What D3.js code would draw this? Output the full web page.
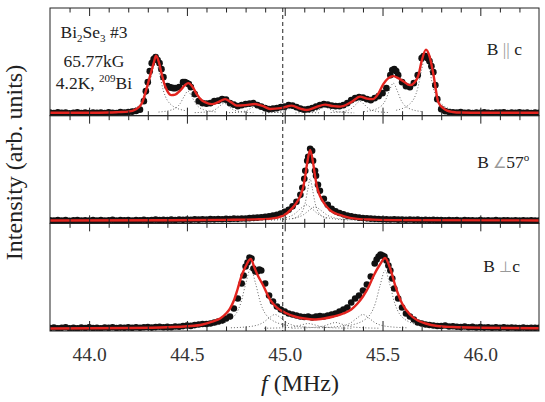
<!DOCTYPE html>
<html>
<head>
<meta charset="utf-8">
<script src="https://cdnjs.cloudflare.com/ajax/libs/d3/7.8.5/d3.min.js"></script>
<style>
body { margin: 0; background: #fff; }
</style>
</head>
<body>
<svg id="chart"></svg>
<script>
// frequency grid of the measured points (MHz)
const freq = [
43.80,43.82,43.84,43.86,43.88,43.90,43.92,43.94,43.96,43.98,
44.00,44.02,44.04,44.06,44.08,44.10,44.12,44.14,44.16,44.18,
44.20,44.22,44.24,44.26,44.28,44.30,44.32,44.34,44.36,44.38,
44.40,44.42,44.44,44.46,44.48,44.50,44.52,44.54,44.56,44.58,
44.60,44.62,44.64,44.66,44.68,44.70,44.72,44.74,44.76,44.78,
44.80,44.82,44.84,44.86,44.88,44.90,44.92,44.94,44.96,44.98,
45.00,45.02,45.04,45.06,45.08,45.10,45.12,45.14,45.16,45.18,
45.20,45.22,45.24,45.26,45.28,45.30,45.32,45.34,45.36,45.38,
45.40,45.42,45.44,45.46,45.48,45.50,45.52,45.54,45.56,45.58,
45.60,45.62,45.64,45.66,45.68,45.70,45.72,45.74,45.76,45.78,
45.80,45.82,45.84,45.86,45.88,45.90,45.92,45.94,45.96,45.98,
46.00,46.02,46.04,46.06,46.08,46.10,46.12,46.14,46.16,46.18,
46.20,46.22,46.24,46.26,46.28,46.30];

// measured intensity, B || c
const intParallel = [
0.005,0.000,0.008,0.003,0.006,-0.002,0.004,0.009,0.002,0.005,
0.000,0.007,0.003,0.006,0.001,0.008,0.004,0.002,0.010,0.006,
0.012,0.015,0.022,0.035,0.12,0.31,0.50,0.56,0.50,0.36,
0.27,0.255,0.25,0.26,0.31,0.30,0.26,0.19,0.12,0.10,
0.095,0.10,0.12,0.125,0.14,0.135,0.10,0.085,0.07,0.08,
0.09,0.095,0.10,0.08,0.065,0.05,0.04,0.045,0.05,0.06,
0.065,0.08,0.075,0.06,0.045,0.035,0.04,0.05,0.065,0.08,
0.09,0.085,0.075,0.07,0.07,0.08,0.10,0.13,0.15,0.16,
0.155,0.14,0.13,0.15,0.17,0.20,0.25,0.38,0.44,0.38,
0.31,0.27,0.26,0.30,0.38,0.55,0.57,0.52,0.41,0.14,
0.04,0.02,0.012,0.008,0.006,0.01,0.004,0.007,0.002,0.006,
0.003,0.008,0.004,0.001,0.007,0.005,0.009,0.002,0.006,0.004,
0.008,0.003,0.006,0.001,0.005,0.004];
const extraParallel = [[44.29,0.22],[44.31,0.42],[44.33,0.54],[44.35,0.53],[44.37,0.44],[44.41,0.26],[44.43,0.25],
[44.49,0.31],[44.51,0.29],[45.55,0.43],[45.57,0.42],[45.71,0.57],[45.73,0.55],[45.75,0.47],[45.77,0.28]];

// measured intensity, B at 57 deg
const intAngle = [
0.006,0.002,0.008,0.004,0.007,0.001,0.005,0.009,0.003,0.006,
0.002,0.007,0.004,0.008,0.003,0.006,0.010,0.004,0.007,0.005,
0.009,0.004,0.008,0.006,0.011,0.005,0.008,0.012,0.007,0.010,
0.008,0.012,0.009,0.013,0.010,0.014,0.011,0.015,0.012,0.016,
0.014,0.017,0.015,0.018,0.016,0.02,0.018,0.022,0.02,0.024,
0.024,0.027,0.03,0.032,0.036,0.04,0.045,0.052,0.06,0.072,
0.09,0.11,0.145,0.19,0.26,0.42,0.64,0.70,0.45,0.30,
0.22,0.16,0.12,0.095,0.078,0.065,0.052,0.045,0.038,0.032,
0.028,0.025,0.022,0.02,0.018,0.016,0.015,0.013,0.016,0.012,
0.014,0.011,0.013,0.01,0.012,0.009,0.011,0.008,0.01,0.007,
0.009,0.006,0.008,0.005,0.007,0.004,0.008,0.005,0.006,0.004,
0.007,0.003,0.006,0.004,0.007,0.002,0.005,0.006,0.003,0.005,
0.004,0.006,0.002,0.005,0.003,0.004];
const extraAngle = [[45.09,0.33],[45.105,0.50],[45.115,0.60],[45.13,0.72],[45.145,0.60],[45.155,0.50],[45.17,0.36]];

// measured intensity, B perpendicular to c
const intPerp = [
0.004,0.010,0.002,0.007,0.012,0.003,0.008,0.001,0.009,0.005,
0.011,0.004,0.008,0.002,0.010,0.006,0.012,0.005,0.009,0.007,
0.011,0.006,0.013,0.008,0.012,0.015,0.009,0.014,0.017,0.012,
0.016,0.013,0.02,0.018,0.024,0.03,0.026,0.034,0.04,0.045,
0.045,0.05,0.06,0.07,0.08,0.10,0.12,0.20,0.30,0.45,
0.62,0.71,0.60,0.57,0.58,0.45,0.33,0.27,0.22,0.19,
0.17,0.15,0.14,0.13,0.12,0.115,0.12,0.11,0.12,0.125,
0.12,0.13,0.14,0.15,0.17,0.19,0.21,0.26,0.30,0.33,
0.38,0.44,0.52,0.65,0.72,0.73,0.68,0.58,0.40,0.30,
0.21,0.15,0.12,0.09,0.06,0.05,0.04,0.035,0.03,0.025,
0.025,0.03,0.02,0.022,0.018,0.015,0.02,0.012,0.016,0.01,
0.014,0.009,0.013,0.008,0.011,0.007,0.012,0.006,0.01,0.008,
0.005,0.009,0.004,0.008,0.006,0.007];
const extraPerp = [[44.79,0.53],[44.81,0.66],[44.83,0.70],[44.85,0.57],[44.87,0.59],
[45.47,0.69],[45.49,0.74],[45.51,0.72],[45.53,0.63],[45.55,0.50]];

// fitted curves (red)
const fitParallel = [[43.80,0.004],[44.00,0.004],[44.10,0.006],[44.15,0.01],[44.20,0.015],[44.24,0.04],[44.27,0.10],
[44.29,0.22],[44.31,0.36],[44.33,0.50],[44.342,0.575],[44.355,0.52],[44.37,0.40],[44.385,0.29],[44.40,0.22],
[44.42,0.18],[44.44,0.185],[44.465,0.225],[44.49,0.28],[44.507,0.30],[44.53,0.26],[44.55,0.19],[44.575,0.13],
[44.592,0.11],[44.627,0.09],[44.66,0.11],[44.695,0.14],[44.725,0.11],[44.755,0.075],[44.80,0.08],[44.848,0.092],
[44.89,0.07],[44.925,0.042],[44.98,0.05],[45.036,0.075],[45.08,0.045],[45.112,0.032],[45.16,0.06],[45.206,0.085],
[45.25,0.07],[45.283,0.065],[45.34,0.11],[45.385,0.165],[45.42,0.145],[45.45,0.14],[45.48,0.20],[45.504,0.29],
[45.53,0.35],[45.555,0.37],[45.58,0.35],[45.606,0.32],[45.64,0.28],[45.665,0.31],[45.683,0.375],[45.70,0.52],
[45.722,0.635],[45.74,0.57],[45.76,0.39],[45.785,0.11],[45.81,0.05],[45.83,0.025],[45.86,0.012],[45.90,0.006],
[46.00,0.004],[46.30,0.004]];
const fitAngle = [[43.80,0.004],[44.40,0.006],[44.70,0.01],[44.85,0.015],[44.93,0.022],[44.99,0.05],[45.04,0.13],
[45.06,0.18],[45.08,0.25],[45.095,0.34],[45.105,0.45],[45.115,0.58],[45.13,0.71],[45.145,0.58],[45.155,0.45],
[45.165,0.34],[45.18,0.25],[45.20,0.18],[45.23,0.11],[45.30,0.048],[45.37,0.02],[45.45,0.012],[45.60,0.007],[46.30,0.004]];
const fitPerp = [[43.80,0.0],[44.20,0.005],[44.40,0.013],[44.50,0.022],[44.58,0.04],[44.63,0.07],[44.67,0.10],
[44.70,0.15],[44.72,0.20],[44.74,0.28],[44.76,0.40],[44.78,0.53],[44.80,0.62],[44.826,0.695],[44.845,0.61],
[44.86,0.54],[44.89,0.43],[44.925,0.29],[44.96,0.21],[45.00,0.16],[45.06,0.115],[45.10,0.10],[45.15,0.09],
[45.20,0.10],[45.25,0.12],[45.30,0.15],[45.34,0.19],[45.37,0.245],[45.40,0.32],[45.43,0.42],[45.455,0.53],
[45.487,0.64],[45.513,0.705],[45.54,0.595],[45.565,0.43],[45.60,0.25],[45.64,0.14],[45.68,0.08],[45.72,0.05],
[45.78,0.025],[45.86,0.015],[46.00,0.008],[46.30,0.003]];

// single line components (dotted)
const compsParallel = [
[[44.19,0.026],[44.26,0.083],[44.30,0.224],[44.32,0.39],[44.34,0.52],[44.36,0.39],[44.38,0.224],[44.42,0.083],[44.49,0.026]],
[[44.355,0.011],[44.425,0.035],[44.465,0.095],[44.485,0.165],[44.505,0.22],[44.525,0.165],[44.545,0.095],[44.585,0.035],[44.655,0.011]],
[[44.54,0.005],[44.61,0.016],[44.65,0.043],[44.67,0.075],[44.69,0.10],[44.71,0.075],[44.73,0.043],[44.77,0.016],[44.84,0.005]],
[[44.70,0.004],[44.77,0.011],[44.81,0.03],[44.83,0.053],[44.85,0.07],[44.87,0.053],[44.89,0.03],[44.93,0.011],[45.00,0.004]],
[[44.885,0.003],[44.955,0.008],[44.995,0.022],[45.015,0.038],[45.035,0.05],[45.055,0.038],[45.075,0.022],[45.115,0.008],[45.185,0.003]],
[[45.055,0.003],[45.125,0.01],[45.165,0.026],[45.185,0.045],[45.205,0.06],[45.225,0.045],[45.245,0.026],[45.285,0.01],[45.355,0.003]],
[[45.235,0.006],[45.305,0.019],[45.345,0.052],[45.365,0.09],[45.385,0.12],[45.405,0.09],[45.425,0.052],[45.465,0.019],[45.535,0.006]],
[[45.405,0.015],[45.475,0.048],[45.515,0.129],[45.535,0.225],[45.555,0.30],[45.575,0.225],[45.595,0.129],[45.635,0.048],[45.705,0.015]],
[[45.57,0.029],[45.64,0.093],[45.68,0.25],[45.70,0.435],[45.72,0.58],[45.74,0.435],[45.76,0.25],[45.80,0.093],[45.87,0.029]]];
const compsAngle = [
[[45.04,0.021],[45.08,0.067],[45.105,0.18],[45.118,0.315],[45.13,0.42],[45.142,0.315],[45.155,0.18],[45.18,0.067],[45.22,0.021]],
[[44.885,0.008],[44.99,0.026],[45.05,0.069],[45.08,0.12],[45.11,0.16],[45.14,0.12],[45.17,0.069],[45.23,0.026],[45.335,0.008]],
[[44.93,0.007],[45.035,0.022],[45.095,0.06],[45.125,0.105],[45.155,0.14],[45.185,0.105],[45.215,0.06],[45.275,0.022],[45.38,0.007]]];
const compsPerp = [
[[44.636,0.03],[44.726,0.096],[44.776,0.258],[44.801,0.45],[44.826,0.60],[44.851,0.45],[44.876,0.258],[44.926,0.096],[45.016,0.03]],
[[44.725,0.007],[44.83,0.022],[44.89,0.06],[44.92,0.105],[44.95,0.14],[44.98,0.105],[45.01,0.06],[45.07,0.022],[45.175,0.007]],
[[44.895,0.003],[45.00,0.008],[45.06,0.022],[45.09,0.038],[45.12,0.05],[45.15,0.038],[45.18,0.022],[45.24,0.008],[45.345,0.003]],
[[45.035,0.003],[45.14,0.01],[45.20,0.026],[45.23,0.045],[45.26,0.06],[45.29,0.045],[45.32,0.026],[45.38,0.01],[45.485,0.003]],
[[45.175,0.007],[45.28,0.022],[45.34,0.06],[45.37,0.105],[45.40,0.14],[45.43,0.105],[45.46,0.06],[45.52,0.022],[45.625,0.007]],
[[45.323,0.029],[45.413,0.093],[45.463,0.25],[45.488,0.435],[45.513,0.58],[45.538,0.435],[45.563,0.25],[45.613,0.093],[45.703,0.029]]];

const majorTicks = [44.0, 44.5, 45.0, 45.5, 46.0];
const minorTicks = [43.9,44.1,44.2,44.3,44.4,44.6,44.7,44.8,44.9,45.1,45.2,45.3,45.4,45.6,45.7,45.8,45.9,46.1,46.2];
const centerLine = 44.99;

//Defining global layout
let width = 545;
let height = 402;
let plotLeft = 50;
let plotRight = 539;
let plotTop = 8;
let panelH = 107.67;
const serif = '"Liberation Serif", "Times New Roman", serif';

const svg = d3.select('#chart').attr('width', width).attr('height', height)
    .style('display', 'block').attr('font-family', serif);
const xScale = d3.scaleLinear().domain([43.8, 46.3]).range([plotLeft, plotRight]);

const panels = [
    {values: intParallel, extra: extraParallel, fit: fitParallel, comps: compsParallel},
    {values: intAngle, extra: extraAngle, fit: fitAngle, comps: compsAngle},
    {values: intPerp, extra: extraPerp, fit: fitPerp, comps: compsPerp}
];

const drawPanel = (p, i) => {
    const y0 = plotTop + i * panelH;
    const bottom = y0 + panelH;
    const yScale = d3.scaleLinear().domain([0, 1]).range([bottom - 2.5, bottom - 102.5]);

    svg.append('clipPath').attr('id', 'clip' + i)
        .append('rect').attr('x', plotLeft).attr('y', y0).attr('width', plotRight - plotLeft).attr('height', panelH);
    const plot = svg.append('g').attr('clip-path', 'url(#clip' + i + ')');

    const line = d3.line().x(d => xScale(d[0])).y(d => yScale(d[1])).curve(d3.curveMonotoneX);

    p.comps.forEach(c => {
        plot.append('path').attr('d', line(c)).attr('fill', 'none')
            .attr('stroke', '#666').attr('stroke-width', 1).attr('stroke-dasharray', '1,2');
    });

    const pts = p.values.map((v, k) => [freq[k], v]).concat(p.extra);
    plot.selectAll('circle').data(pts).enter().append('circle')
        .attr('cx', d => xScale(d[0]))
        .attr('cy', d => yScale(d[1]))
        .attr('r', 3.3)
        .attr('fill', '#111');

    plot.append('path').attr('d', line(p.fit)).attr('fill', 'none')
        .attr('stroke', '#e3241f').attr('stroke-width', 2.4).attr('stroke-linejoin', 'round');

    // inward ticks on top and bottom edges
    const last = i === panels.length - 1;
    const addAxis = (axis, y) => {
        const g = svg.append('g').attr('transform', 'translate(0,' + y + ')').call(axis);
        g.attr('font-family', serif);
        g.select('.domain').remove();
        g.selectAll('line').attr('stroke', '#222');
        return g;
    };
    addAxis(d3.axisTop(xScale).tickValues(majorTicks).tickSizeInner(-8).tickSizeOuter(0).tickFormat(''), y0);
    addAxis(d3.axisTop(xScale).tickValues(minorTicks).tickSizeInner(-4.5).tickSizeOuter(0).tickFormat(''), y0);
    addAxis(d3.axisBottom(xScale).tickValues(minorTicks).tickSizeInner(-4.5).tickSizeOuter(0).tickFormat(''), bottom);
    const bAxis = d3.axisBottom(xScale).tickValues(majorTicks).tickSizeInner(last ? -10 : -8).tickSizeOuter(0);
    if (last) {
        bAxis.tickFormat(d3.format('.1f')).tickPadding(0);
    } else {
        bAxis.tickFormat('');
    }
    const gb = addAxis(bAxis, bottom);
    if (last) {
        gb.attr('font-size', 19.5);
        gb.selectAll('text').attr('y', 29.8).attr('dy', null).attr('fill', '#333');
    }

    svg.append('rect').attr('x', plotLeft).attr('y', y0)
        .attr('width', plotRight - plotLeft).attr('height', panelH)
        .attr('fill', 'none').attr('stroke', '#222').attr('stroke-width', 1);
};

panels.forEach(drawPanel);

// dashed reference line
svg.append('line')
    .attr('x1', xScale(centerLine)).attr('x2', xScale(centerLine))
    .attr('y1', plotTop).attr('y2', plotTop + 3 * panelH)
    .attr('stroke', '#222').attr('stroke-width', 1).attr('stroke-dasharray', '4,3');

// annotations
const note = svg.append('g').attr('fill', '#222').attr('font-size', 17.5).attr('text-anchor', 'middle');
const t1 = note.append('text').attr('x', 94).attr('y', 38.3);
t1.append('tspan').text('Bi');
t1.append('tspan').attr('font-size', 11).attr('dy', 4).text('2');
t1.append('tspan').attr('dy', -4).text('Se');
t1.append('tspan').attr('font-size', 11).attr('dy', 4).text('3');
t1.append('tspan').attr('dy', -4).text(' #3');
note.append('text').attr('x', 94).attr('y', 66.5).text('65.77kG');
const t3 = note.append('text').attr('x', 94).attr('y', 89.3);
t3.append('tspan').text('4.2K, ');
t3.append('tspan').attr('font-size', 11).attr('dy', -7).text('209');
t3.append('tspan').attr('dy', 7).text('Bi');

const lab = svg.append('g').attr('fill', '#222').attr('font-size', 17.5);
const l1 = lab.append('text').attr('x', 486.7).attr('y', 55);
l1.append('tspan').text('B ');
l1.append('tspan').attr('fill', '#999').text('||');
l1.append('tspan').text(' c');
const l2 = lab.append('text').attr('x', 477.3).attr('y', 168.3);
l2.append('tspan').text('B ');
l2.append('tspan').attr('fill', '#999').attr('font-size', 15).text('∠');
l2.append('tspan').text('57');
l2.append('tspan').attr('font-size', 11).attr('dy', -7).text('o');
const l3 = lab.append('text').attr('x', 483.3).attr('y', 272.3);
l3.append('tspan').text('B ');
l3.append('tspan').attr('fill', '#999').attr('font-size', 15).text('⊥');
l3.append('tspan').text('c');

// axis titles
svg.append('text')
    .attr('transform', 'translate(22,162.5) rotate(-90)')
    .attr('text-anchor', 'middle').attr('font-size', 24).attr('fill', '#222')
    .text('Intensity (arb. units)');
const xl = svg.append('text').attr('x', 300).attr('y', 391)
    .attr('text-anchor', 'middle').attr('font-size', 24).attr('fill', '#222');
xl.append('tspan').attr('font-style', 'italic').text('f');
xl.append('tspan').text(' (MHz)');
</script>
</body>
</html>
